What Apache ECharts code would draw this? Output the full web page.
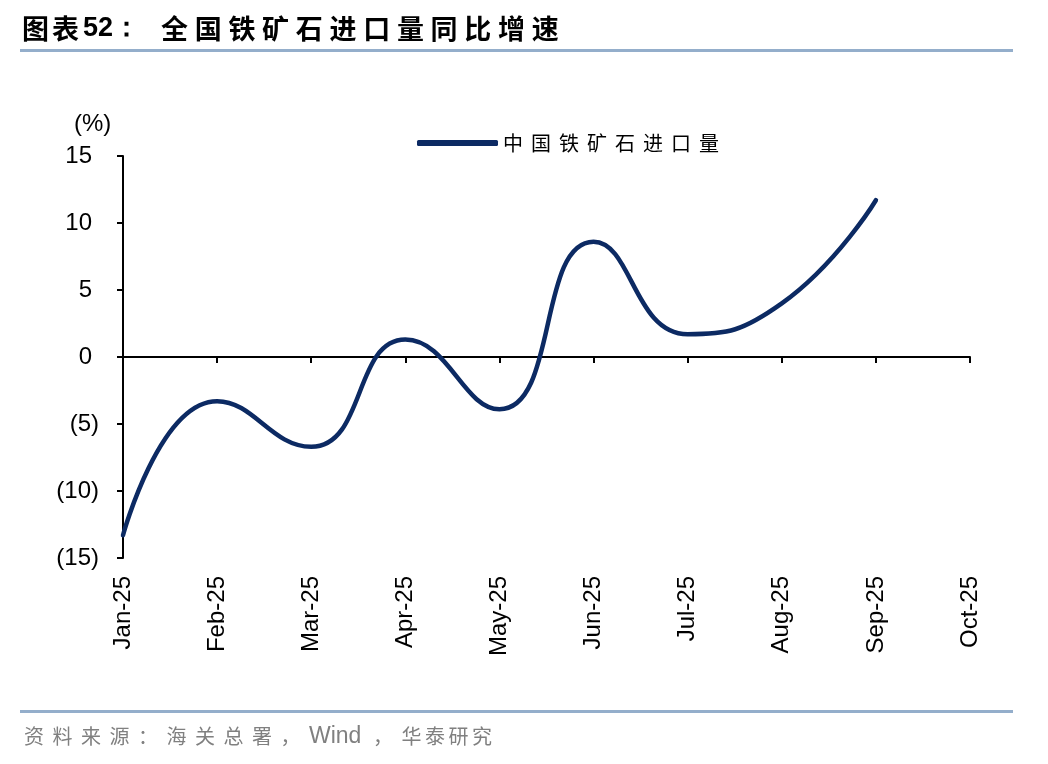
<!DOCTYPE html>
<html><head><meta charset="utf-8">
<script src="https://cdn.jsdelivr.net/npm/echarts@6/dist/echarts.min.js"></script>
<style>html,body{margin:0;padding:0;background:#fff;}#c{width:1048px;height:764px;}</style>
</head><body><div id="c"></div>
<script>
const categories = ['Jan-25','Feb-25','Mar-25','Apr-25','May-25','Jun-25','Jul-25','Aug-25','Sep-25','Oct-25'];
const seriesName = '中国铁矿石进口量';
const values = [-13.3, -3.3, -6.7, 1.3, -3.9, 8.6, 1.7, 4.0, 11.7, null];
const yTicks = {min: -15, max: 15, interval: 5};
const titlePrefix = '图表';
const titleNumber = '52：';
const titleMain = '全国铁矿石进口量同比增速';
const sourceParts = ['资料来源：海关总署，', 'Wind', '，', '华泰研究'];

const chart = echarts.init(document.getElementById('c'));
const spaced = (s, key) => s.split('').map(c => '{' + key + '|' + c + '}').join('');
const fmt = v => v < 0 ? '(' + Math.abs(v) + ')' : '{p|' + v + '}';
const CJK = 'Noto Sans CJK SC';
chart.setOption({
  animation: false,
  textStyle: {fontFamily: 'Liberation Sans, Arial, sans-serif'},
  grid: {left: 123, right: 78, top: 156, bottom: 206},
  legend: {
    show: true, left: 417, top: 133, padding: 0, itemWidth: 81, itemHeight: 6, itemGap: 12,
    icon: 'roundRect',
    textStyle: {fontSize: 20, color: '#000', fontFamily: CJK,
      rich: {l: {width: 28, fontSize: 20, fontFamily: CJK, color: '#000'}}},
    formatter: n => spaced(n, 'l')
  },
  xAxis: [{
    type: 'category', data: categories, boundaryGap: false,
    axisLine: {onZero: true, lineStyle: {color: '#000', width: 2}},
    axisTick: {show: true, inside: false, length: 6, lineStyle: {color: '#000', width: 2}},
    axisLabel: {show: false}, splitLine: {show: false}
  }, {
    type: 'category', data: categories, boundaryGap: false, position: 'bottom',
    axisLine: {show: false, onZero: false}, axisTick: {show: false},
    axisLabel: {rotate: 90, margin: 18, fontSize: 24, color: '#000', interval: 0}
  }],
  yAxis: {
    type: 'value', min: yTicks.min, max: yTicks.max, interval: yTicks.interval,
    axisLine: {show: true, lineStyle: {color: '#000', width: 2}},
    axisTick: {show: true, length: 6, lineStyle: {color: '#000', width: 2}},
    axisLabel: {formatter: fmt, fontSize: 24, color: '#000', margin: 24,
      rich: {p: {fontSize: 24, color: '#000', padding: [0, 7, 0, 0]}}},
    splitLine: {show: false}
  },
  series: [{
    name: seriesName, type: 'line', data: values, smooth: 0.5, showSymbol: false, symbol: 'none',
    lineStyle: {color: '#0C2A63', width: 4.5, cap: 'round'}, itemStyle: {color: '#0C2A63'}
  }],
  graphic: [
    {type: 'text', left: 22, top: 15, style: {text: spaced(titlePrefix, 't'), fontSize: 27, fontWeight: 'bold', fill: '#000', fontFamily: CJK,
      rich: {t: {width: 30, fontSize: 27, fontWeight: 'bold', fontFamily: CJK}}}},
    {type: 'text', left: 83, top: 15, style: {text: titleNumber, fontSize: 27, fontWeight: 'bold', fill: '#000', fontFamily: 'Liberation Sans Narrow, Liberation Sans'}},
    {type: 'text', left: 161, top: 15, style: {text: spaced(titleMain, 't'), fontSize: 27, fontWeight: 'bold', fill: '#000', fontFamily: CJK,
      rich: {t: {width: 33.7, fontSize: 27, fontWeight: 'bold', fontFamily: CJK}}}},
    {type: 'rect', shape: {x: 20, y: 49, width: 993, height: 3}, style: {fill: '#94AECB'}},
    {type: 'rect', shape: {x: 20, y: 710, width: 993, height: 3}, style: {fill: '#94AECB'}},
    {type: 'text', left: 24, top: 725, style: {
      text: spaced(sourceParts[0], 'a') + '{w|' + sourceParts[1] + '}' + spaced(sourceParts[2], 'a') + spaced(sourceParts[3], 'b'),
      fontSize: 20, fill: '#808080', fontFamily: CJK,
      rich: {
        a: {width: 28.5, fontSize: 20, fontFamily: CJK, color: '#808080'},
        w: {width: 64, fontSize: 23, fontFamily: 'Liberation Sans', color: '#808080'},
        b: {width: 23.5, fontSize: 20, fontFamily: CJK, color: '#808080'}
      }}},
    {type: 'text', left: 74, top: 112, style: {text: '(%)', fontSize: 24, fill: '#000', fontFamily: 'Liberation Sans'}}
  ]
});
</script></body></html>
